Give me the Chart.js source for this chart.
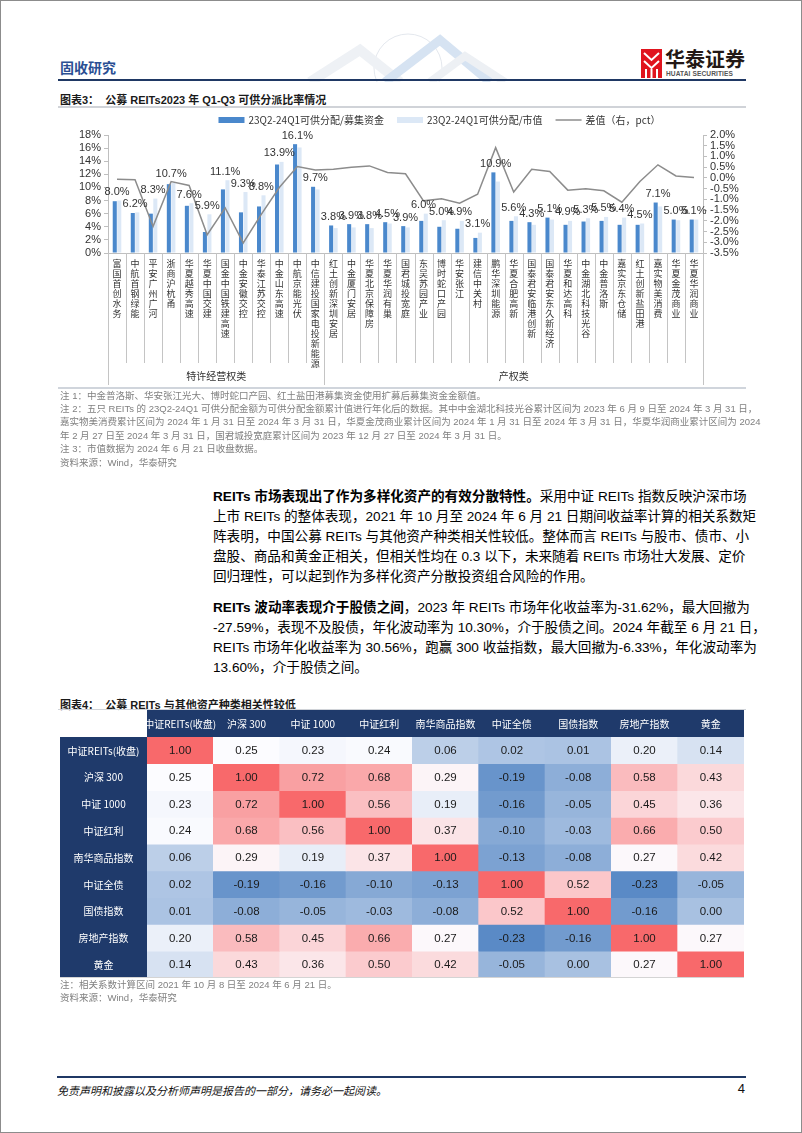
<!DOCTYPE html>
<html><head><meta charset="utf-8">
<script src="https://cdn.jsdelivr.net/npm/chart.js@4.4.1/dist/chart.umd.min.js"></script>
<style>
html,body{margin:0;padding:0;background:#fff;}
body{width:802px;height:1133px;position:relative;overflow:hidden;font-family:"Liberation Sans","Noto Sans CJK SC",sans-serif;color:#000;}
.frame{position:absolute;left:0;top:0;width:800px;height:1131px;border:1px solid #8c8c8c;pointer-events:none;}
.abs{position:absolute;}
.rule{position:absolute;}
.notes{position:absolute;left:60px;width:685px;font-size:9.5px;line-height:13.4px;color:#808080;white-space:nowrap;}
.j{text-align:justify;text-align-last:justify;}
.body{position:absolute;left:213px;width:532px;font-size:13.6px;line-height:20px;color:#000;}
.body div{white-space:nowrap;}
.body b{font-weight:bold;}
.title{position:absolute;left:60px;font-size:11px;font-weight:bold;color:#1a1a1a;white-space:nowrap;}
</style>
</head><body>
<div class="frame"></div>

<!-- header decoration -->
<svg class="abs" style="left:290px;top:28px" width="240" height="54" viewBox="0 0 240 54">
  <circle cx="118" cy="40" r="34" fill="none" stroke="#e4e8ee" stroke-width="1"/>
  <polyline points="20,54 70,22 110,54" fill="none" stroke="#eef1f5" stroke-width="10"/>
  <polyline points="95,54 150,12 200,54" fill="none" stroke="#d6e3f2" stroke-width="9"/>
  <polyline points="140,54 175,28 215,54" fill="none" stroke="#edf0f4" stroke-width="8"/>
</svg>
<div class="abs" style="left:60px;top:57px;font-size:14px;font-weight:bold;color:#2a4f93;font-family:'Noto Sans CJK SC';">固收研究</div>
<svg class="abs" style="left:641px;top:49px" width="21" height="29" viewBox="0 0 21 29">
  <rect x="0" y="0" width="21" height="29" fill="#e0141e"/>
  <path d="M3 4 L10.5 11 L18 4" stroke="#fff" stroke-width="2" fill="none"/>
  <path d="M3 12 L10.5 19 L18 12" stroke="#fff" stroke-width="2" fill="none"/>
  <rect x="4" y="20" width="2" height="9" fill="#fff"/>
  <rect x="9.5" y="20" width="2" height="9" fill="#fff"/>
  <rect x="15" y="20" width="2" height="9" fill="#fff"/>
</svg>
<div class="abs" style="left:665px;top:47px;font-size:20px;font-weight:bold;color:#231815;font-family:'Noto Sans CJK SC';line-height:24px;">华泰证券</div>
<div class="abs" style="left:666px;top:70px;font-size:6.6px;font-weight:bold;color:#555;line-height:8px;letter-spacing:0.1px;">HUATAI SECURITIES</div>
<div class="rule" style="left:58px;top:79px;width:688px;height:2px;background:#1f3864;"></div>

<!-- chart 3 -->
<div class="title" style="top:91px;">图表3：&nbsp; 公募 REITs2023 年 Q1-Q3 可供分派比率情况</div>
<div class="rule" style="left:58px;top:106px;width:688px;height:1.5px;background:#d0d3d8;"></div>
<canvas id="c1" class="abs" style="left:58px;top:112px;" width="690" height="276"></canvas>
<div class="rule" style="left:58px;top:387px;width:688px;height:1.5px;background:#d0d5dc;"></div>

<div class="notes" style="top:388.5px;">
  <div>注 1：中金普洛斯、华安张江光大、博时蛇口产园、红土盐田港募集资金使用扩募后募集资金金额值。</div>
  <div class="j">注 2：五只 REITs 的 23Q2-24Q1 可供分配金额为可供分配金额累计值进行年化后的数据。其中中金湖北科技光谷累计区间为 2023 年 6 月 9 日至 2024 年 3 月 31 日，</div>
  <div class="j">嘉实物美消费累计区间为 2024 年 1 月 31 日至 2024 年 3 月 31 日，华夏金茂商业累计区间为 2024 年 1 月 31 日至 2024 年 3 月 31 日，华夏华润商业累计区间为 2024</div>
  <div>年 2 月 27 日至 2024 年 3 月 31 日，国君城投宽庭累计区间为 2023 年 12 月 27 日至 2024 年 3 月 31 日。</div>
  <div>注 3：市值数据为 2024 年 6 月 21 日收盘数据。</div>
  <div>资料来源：Wind，华泰研究</div>
</div>

<div class="body" style="top:487px;">
  <div class="j"><b>REITs 市场表现出了作为多样化资产的有效分散特性。</b>采用中证 REITs 指数反映沪深市场</div>
  <div class="j">上市 REITs 的整体表现，2021 年 10 月至 2024 年 6 月 21 日期间收益率计算的相关系数矩</div>
  <div class="j">阵表明，中国公募 REITs 与其他资产种类相关性较低。整体而言 REITs 与股市、债市、小</div>
  <div class="j">盘股、商品和黄金正相关，但相关性均在 0.3 以下，未来随着 REITs 市场壮大发展、定价</div>
  <div>回归理性，可以起到作为多样化资产分散投资组合风险的作用。</div>
  <div class="j" style="margin-top:11px;"><b>REITs 波动率表现介于股债之间</b>，2023 年 REITs 市场年化收益率为-31.62%，最大回撤为</div>
  <div class="j">-27.59%，表现不及股债，年化波动率为 10.30%，介于股债之间。2024 年截至 6 月 21 日，</div>
  <div class="j">REITs 市场年化收益率为 30.56%，跑赢 300 收益指数，最大回撤为-6.33%，年化波动率为</div>
  <div>13.60%，介于股债之间。</div>
</div>

<!-- chart 4 -->
<div class="title" style="top:696px;">图表4：&nbsp; 公募 REITs 与其他资产种类相关性较低</div>
<div class="rule" style="left:58px;top:708.5px;width:688px;height:1.5px;background:#d0d3d8;"></div>
<canvas id="c2" class="abs" style="left:60px;top:710px;" width="684" height="268"></canvas>
<div class="rule" style="left:60px;top:977px;width:684px;height:1px;background:#d4d4d4;"></div>
<div class="notes" style="top:978px;">
  <div>注：相关系数计算区间 2021 年 10 月 8 日至 2024 年 6 月 21 日。</div>
  <div>资料来源：Wind，华泰研究</div>
</div>

<!-- footer -->
<div class="rule" style="left:57px;top:1076px;width:689px;height:2px;background:#1f3864;"></div>
<div class="abs" style="left:57px;top:1082px;font-size:11px;line-height:16px;font-style:italic;color:#111;font-family:'Noto Sans CJK SC';">免责声明和披露以及分析师声明是报告的一部分，请务必一起阅读。</div>
<div class="abs" style="left:735px;top:1081px;font-size:13px;line-height:16px;color:#111;width:10px;text-align:right;">4</div>

<script>
// ---------------- Chart 3 data ----------------
const categories = ['富国首创水务','中航首钢绿能','平安广州广河','浙商沪杭甬','华夏越秀高速','华夏中国交建','国金中国铁建高速','中金安徽交控','华泰江苏交控','中金山东高速','中航京能光伏','中信建投国家电投新能源',
  '红土创新深圳安居','中金厦门安居','华夏北京保障房','华夏华润有巢','国君城投宽庭','东吴苏园产业','博时蛇口产园','华安张江','建信中关村','鹏华深圳能源','华夏合肥高新','国泰君安临港创新','国泰君安东久新经济','华夏和达高科','中金湖北科技光谷','中金普洛斯','嘉实京东仓储','红土创新盐田港','嘉实物美消费','华夏金茂商业','华夏华润商业'];
const groupNames = ['特许经营权类','产权类'];
const groupCounts = [12, 21];
const seriesNames = ['23Q2-24Q1可供分配/募集资金','23Q2-24Q1可供分配/市值','差值（右，pct）'];
const raisedYield = [7.9, 6.1, 6.0, 10.5, 7.2, 3.2, 9.7, 6.2, 7.1, 13.5, 16.6, 10.1, 4.2, 4.4, 4.4, 4.7, 4.1, 4.9, 4.0, 3.7, 2.3, 12.3, 4.9, 4.7, 5.4, 4.3, 4.8, 4.9, 4.3, 4.3, 7.7, 5.1, 5.1];
const marketYield = [8.0, 6.2, 8.3, 10.7, 7.6, 5.9, 11.1, 9.3, 8.8, 13.9, 16.1, 9.7, 3.8, 3.9, 3.8, 4.5, 3.9, 6.0, 5.0, 4.9, 3.1, 10.9, 5.6, 4.3, 5.1, 4.9, 5.3, 5.5, 5.4, 4.5, 7.1, 5.0, 5.1];
const yieldGap = [-0.06, -0.09, -2.26, -0.17, -0.35, -2.65, -1.40, -3.03, -1.70, -0.45, 0.53, 0.37, 0.40, 0.50, 0.56, 0.25, 0.19, -1.07, -0.97, -1.18, -0.76, 1.41, -0.66, 0.40, 0.30, -0.57, -0.51, -0.60, -1.13, -0.17, 0.61, 0.09, 0.02];

// ---------------- Chart 4 data ----------------
const assets = ['中证REITs(收盘)','沪深 300','中证 1000','中证红利','南华商品指数','中证全债','国债指数','房地产指数','黄金'];
const corr = [
  [1.00, 0.25, 0.23, 0.24, 0.06, 0.02, 0.01, 0.20, 0.14],
  [0.25, 1.00, 0.72, 0.68, 0.29, -0.19, -0.08, 0.58, 0.43],
  [0.23, 0.72, 1.00, 0.56, 0.19, -0.16, -0.05, 0.45, 0.36],
  [0.24, 0.68, 0.56, 1.00, 0.37, -0.10, -0.03, 0.66, 0.50],
  [0.06, 0.29, 0.19, 0.37, 1.00, -0.13, -0.08, 0.27, 0.42],
  [0.02, -0.19, -0.16, -0.10, -0.13, 1.00, 0.52, -0.23, -0.05],
  [0.01, -0.08, -0.05, -0.03, -0.08, 0.52, 1.00, -0.16, 0.00],
  [0.20, 0.58, 0.45, 0.66, 0.27, -0.23, -0.16, 1.00, 0.27],
  [0.14, 0.43, 0.36, 0.50, 0.42, -0.05, 0.00, 0.27, 1.00]
];

const LATIN = '"Liberation Sans", Arial, sans-serif';
const CJK = '"Noto Sans CJK SC", "Liberation Sans", sans-serif';

// ---------- chart 3 plugins ----------
const legend3 = {
  id: 'legend3',
  afterDraw(chart) {
    const ctx = chart.ctx;
    ctx.save();
    ctx.font = '10px ' + CJK;
    ctx.textBaseline = 'middle';
    const box = 26, gap = 4, itemGap = 13;
    const items = chart.data.datasets.map(d => ({ text: d.label, isLine: d.type === 'line', color: d.type === 'line' ? d.borderColor : d.backgroundColor }));
    const widths = items.map(it => box + gap + ctx.measureText(it.text).width);
    const total = widths.reduce((a, b) => a + b, 0) + itemGap * (items.length - 1);
    const ca = chart.chartArea;
    let x = (ca.left + ca.right) / 2 + 34 - total / 2;
    const y = 8;
    items.forEach((it, i) => {
      if (it.isLine) {
        ctx.strokeStyle = it.color; ctx.lineWidth = 1.5;
        ctx.beginPath(); ctx.moveTo(x, y); ctx.lineTo(x + box, y); ctx.stroke();
      } else {
        ctx.fillStyle = it.color; ctx.fillRect(x, y - 3, box, 6);
      }
      ctx.fillStyle = '#333';
      ctx.fillText(it.text, x + box + gap, y + 0.5);
      x += widths[i] + itemGap;
    });
    ctx.restore();
  }
};
const separators3 = {
  id: 'separators3',
  afterDraw(chart) {
    const ctx = chart.ctx, xs = chart.scales.x, bottom = chart.chartArea.bottom;
    const n = chart.data.labels.length;
    const bounds = [0]; let acc = 0; groupCounts.forEach(g => { acc += g; bounds.push(acc); });
    ctx.save();
    ctx.strokeStyle = '#c4c4c4'; ctx.lineWidth = 1;
    for (let i = 0; i <= n; i++) {
      const x = Math.round(xs.getPixelForValue(i - 0.5)) + 0.5;
      const len = bounds.includes(i) ? 132 : 110;
      ctx.beginPath(); ctx.moveTo(x, bottom); ctx.lineTo(x, bottom + len); ctx.stroke();
    }
    ctx.fillStyle = '#333'; ctx.font = '10px ' + CJK; ctx.textAlign = 'center'; ctx.textBaseline = 'middle';
    groupNames.forEach((g, k) => {
      const x0 = xs.getPixelForValue(bounds[k] - 0.5), x1 = xs.getPixelForValue(bounds[k + 1] - 0.5);
      ctx.fillText(g, (x0 + x1) / 2, bottom + 123);
    });
    ctx.restore();
  }
};
const labels3 = {
  id: 'labels3',
  afterDatasetsDraw(chart) {
    const ctx = chart.ctx, xs = chart.scales.x, ys = chart.scales.y;
    const a = chart.data.datasets[0].data, b = chart.data.datasets[1].data;
    ctx.save();
    ctx.font = '11px ' + LATIN; ctx.fillStyle = '#333'; ctx.textAlign = 'center'; ctx.textBaseline = 'bottom';
    b.forEach((v, i) => {
      const top = Math.min(ys.getPixelForValue(v), ys.getPixelForValue(a[i]));
      ctx.fillText(v.toFixed(1) + '%', xs.getPixelForValue(i), top - 3);
    });
    ctx.restore();
  }
};

new Chart(document.getElementById('c1'), {
  data: {
    labels: categories.map(s => s.split('')),
    datasets: [
      { type: 'bar', label: seriesNames[0], data: raisedYield, backgroundColor: '#4a88cc', yAxisID: 'y', order: 2, categoryPercentage: 0.5, barPercentage: 0.9 },
      { type: 'bar', label: seriesNames[1], data: marketYield, backgroundColor: '#dce8f6', yAxisID: 'y', order: 2, categoryPercentage: 0.5, barPercentage: 0.9 },
      { type: 'line', label: seriesNames[2], data: yieldGap, borderColor: '#8c8c8c', borderWidth: 1.5, pointRadius: 0, yAxisID: 'y1', order: 1, tension: 0 }
    ]
  },
  options: {
    responsive: false, animation: false, devicePixelRatio: 1,
    layout: { padding: { top: 23, left: 0, right: 0, bottom: 0 } },
    plugins: { legend: { display: false }, tooltip: { enabled: false } },
    scales: {
      x: {
        grid: { display: false, drawTicks: false }, border: { display: true, color: '#bfbfbf' },
        ticks: { autoSkip: false, maxRotation: 0, minRotation: 0, padding: 6, color: '#333', font: { family: CJK, size: 9, lineHeight: '10px' } },
        afterFit(s) { s.height = 135; }
      },
      y: {
        position: 'left', min: 0, max: 18,
        ticks: { stepSize: 2, autoSkip: false, callback: v => v + '%', color: '#333', font: { family: LATIN, size: 11 }, padding: 3 },
        grid: { drawOnChartArea: false, drawTicks: true, tickLength: 4, color: '#bfbfbf' },
        border: { display: true, color: '#bfbfbf' },
        afterFit(s) { s.width = 50; }
      },
      y1: {
        position: 'right', min: -3.5, max: 2,
        ticks: { stepSize: 0.5, autoSkip: false, callback: v => v.toFixed(1) + '%', color: '#333', font: { family: LATIN, size: 11 }, padding: 3 },
        grid: { drawOnChartArea: false, drawTicks: true, tickLength: 4, color: '#bfbfbf' },
        border: { display: true, color: '#bfbfbf' },
        afterFit(s) { s.width = 45; }
      }
    }
  },
  plugins: [legend3, separators3, labels3]
});

// ---------- chart 4 ----------
const flat = corr.flat().slice().sort((p, q) => p - q);
const vMin = flat[0], vMax = flat[flat.length - 1], vMid = flat[Math.floor(flat.length / 2)];
const BLUE = [90, 138, 198], WHITE = [252, 252, 255], RED = [248, 105, 107];
function mix(c1, c2, t) { return 'rgb(' + c1.map((c, i) => Math.round(c + (c2[i] - c) * t)).join(',') + ')'; }
function cellColor(v) {
  if (v <= vMid) return mix(WHITE, BLUE, (vMid - v) / (vMid - vMin));
  return mix(WHITE, RED, (v - vMid) / (vMax - vMid));
}
const NAVY = '#1f3a6b';
const heatBg = {
  id: 'heatBg',
  beforeDraw(chart) {
    const ctx = chart.ctx, ca = chart.chartArea;
    ctx.save(); ctx.fillStyle = NAVY;
    ctx.fillRect(ca.left, 0, ca.right - ca.left, ca.top);
    ctx.fillRect(0, ca.top, ca.left, ca.bottom - ca.top);
    ctx.restore();
  },
  afterDraw(chart) {
    // column and row header labels, centred in the navy bands
    const ctx = chart.ctx, ca = chart.chartArea, xs = chart.scales.x, ys = chart.scales.y;
    ctx.save();
    ctx.fillStyle = '#ffffff'; ctx.font = '10px ' + CJK; ctx.textAlign = 'center'; ctx.textBaseline = 'middle';
    xs.getLabels().forEach((lab, i) => ctx.fillText(lab, xs.getPixelForValue(i), ca.top / 2 + 0.5));
    chart.scales.yc.getLabels().forEach((lab, r) => ctx.fillText(lab, ca.left / 2, ys.getPixelForValue(r + 0.5) + 0.5));
    ctx.restore();
  }
};
const heatLabels = {
  id: 'heatLabels',
  afterDatasetsDraw(chart) {
    const ctx = chart.ctx, xs = chart.scales.x, ys = chart.scales.y;
    ctx.save();
    ctx.font = '11.5px ' + LATIN; ctx.fillStyle = '#1a1a1a'; ctx.textAlign = 'center'; ctx.textBaseline = 'middle';
    corr.forEach((row, r) => row.forEach((v, c) => {
      ctx.fillText(v.toFixed(2), xs.getPixelForValue(c), ys.getPixelForValue(r + 0.5) + 0.5);
    }));
    ctx.restore();
  }
};
new Chart(document.getElementById('c2'), {
  type: 'bar',
  data: {
    labels: assets,
    datasets: corr.map((row, r) => ({
      label: assets[r],
      data: row.map(() => [r, r + 1]),
      backgroundColor: row.map(cellColor),
      borderWidth: 0, barPercentage: 1, categoryPercentage: 1, grouped: false,
      xAxisID: 'x', yAxisID: 'y'
    }))
  },
  options: {
    responsive: false, animation: false, devicePixelRatio: 1,
    layout: { padding: 0 },
    plugins: { legend: { display: false }, tooltip: { enabled: false } },
    scales: {
      x: {
        type: 'category', position: 'top', offset: true,
        grid: { display: false, drawTicks: false }, border: { display: false },
        ticks: { display: false },
        afterFit(s) { s.height = 27; }
      },
      y: { type: 'linear', min: 0, max: 9, reverse: true, display: false },
      yc: {
        type: 'category', labels: assets, position: 'left', offset: true,
        grid: { display: false, drawTicks: false }, border: { display: false },
        ticks: { display: false },
        afterFit(s) { s.width = 87; }
      }
    }
  },
  plugins: [heatBg, heatLabels]
});
</script>
</body></html>
